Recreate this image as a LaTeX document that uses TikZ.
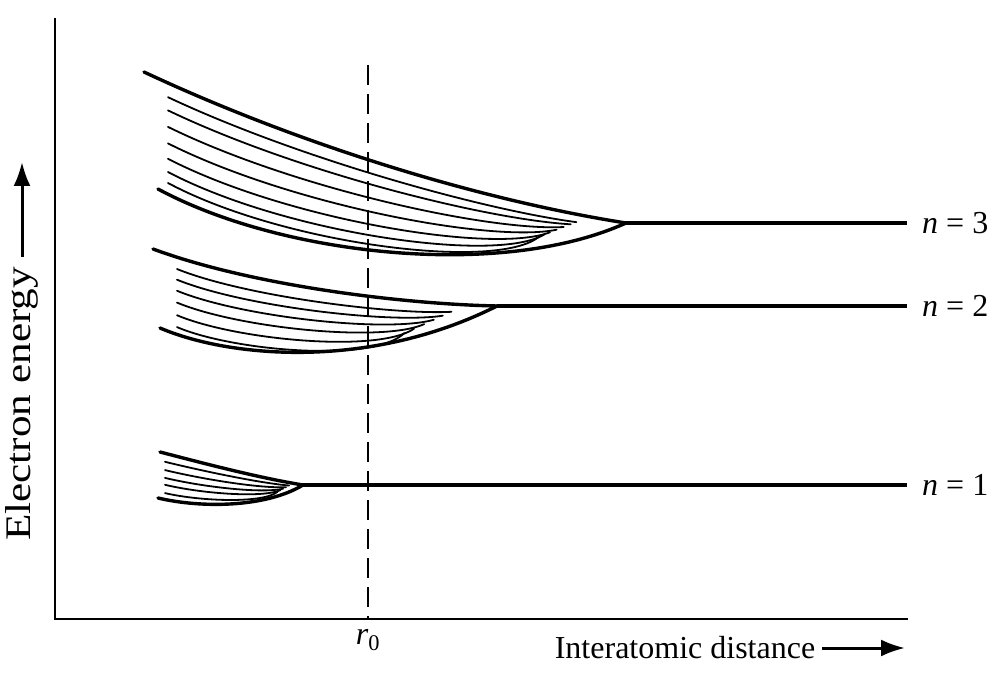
\documentclass[tikz,border=0pt]{standalone}
\usepackage{fontspec}
\usepackage{graphicx}
\setmainfont{Liberation Serif}
\usetikzlibrary{calc,arrows.meta}

\begin{document}
\begin{tikzpicture}[x=1pt,y=-1pt,
  band/.style={line width=3.4pt,line cap=round},
  sub/.style={line width=1.8pt,line cap=round},
  lvl/.style={line width=3.4pt},
  axis/.style={line width=2.2pt},
  lbl/.style={font=\fontsize{32}{36}\selectfont,inner sep=0pt},
  pointer/.style={line width=3pt,-{Latex[length=24pt,width=17pt]}}]
\useasboundingbox (0,0) rectangle (1005,676);
% axes
\coordinate (o) at (55,619);
\coordinate (ytop) at (55,18);
\coordinate (xend) at (908,619);
\draw[axis] (ytop) -- (o) -- (xend);
\node[lbl,anchor=center] (xlab) at (685,648) {Interatomic distance};
\coordinate (xtip) at (905,648);
\draw[pointer,shorten <=7pt] (xlab.east) -- (xtip);
\node[lbl,font=\fontsize{36}{40}\selectfont,rotate=90] (ylab) at (22,404) {\scalebox{1.2}[1]{Electron energy}};
\coordinate (ytip) at (22,162);
\draw[pointer,shorten <=10pt] (ylab.east) -- (ytip);
% r0
\coordinate (dtop) at (368,65);
\node[lbl] (r0) at (368,640) {\textit{r}\textsubscript{0}};
\draw[line width=2pt,dash pattern=on 20pt off 9pt] (dtop) -- (dtop |- o);
% n = 3
\coordinate (u3) at (144,72);  \coordinate (m3) at (626,223);
\coordinate (l3) at (158,189);
\draw[band] (u3) .. controls (300,145) and (480,200) .. (m3);
\draw[band] (l3) .. controls (280,255) and (500,280) .. (m3);
\foreach \t in {0.12,0.24,0.39,0.54,0.68,0.80,0.90}
  \draw[sub] ($(168,84)!\t!(168,194)$) .. controls ($(300,145)!\t!(280,255)$) and ($(480,200)!\t!(500,280)$) .. ($(582,220)!\t!(535,238)$);
% n = 2
\coordinate (u2) at (153,249);  \coordinate (m2) at (497,306);
\coordinate (l2) at (160,328);
\draw[band] (u2) .. controls (250,285) and (400,304) .. (m2);
\draw[band] (l2) .. controls (230,358) and (370,370) .. (m2);
\foreach \t in {0.165,0.30,0.44,0.59,0.75,0.90}
  \draw[sub] ($(177,256)!\t!(177,335)$) .. controls ($(250,285)!\t!(230,358)$) and ($(400,304)!\t!(370,370)$) .. ($(462,307)!\t!(398,336)$);
% n = 1
\coordinate (u1) at (160,452);  \coordinate (m1) at (303,485);
\coordinate (l1) at (158,498);
\draw[band] (u1) .. controls (210,465) and (260,478) .. (m1);
\draw[band] (l1) .. controls (200,508) and (265,508) .. (m1);
\foreach \t in {0.17,0.35,0.52,0.67,0.85}
  \draw[sub] ($(165,454)!\t!(165,500)$) .. controls ($(210,465)!\t!(200,508)$) and ($(260,478)!\t!(265,508)$) .. ($(292,484)!\t!(275,493)$);
% levels
\node[lbl,anchor=west] (n3) at (922,223) {\textit{n} = 3};
\node[lbl,anchor=west] (n2) at (922,306) {\textit{n} = 2};
\node[lbl,anchor=west] (n1) at (922,485) {\textit{n} = 1};
\draw[lvl,shorten >=15pt] (m3) -- (n3.west);
\draw[lvl,shorten >=15pt] (m2) -- (n2.west);
\draw[lvl,shorten >=15pt] (m1) -- (n1.west);
\end{tikzpicture}
\end{document}
